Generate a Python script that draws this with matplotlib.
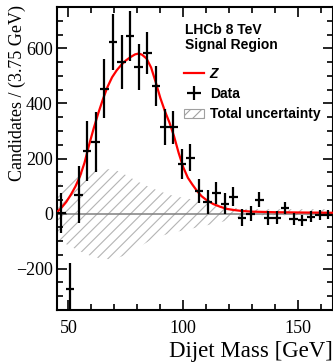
import matplotlib
matplotlib.use("Agg")
import matplotlib.pyplot as plt
import numpy as np
from matplotlib.patches import Patch
from matplotlib.ticker import MultipleLocator

# ---- data ----
bin_lo, bin_hi, bin_w = 45.0, 165.0, 3.75
data_x = [46.875, 50.625, 54.375, 58.125, 61.875, 65.625, 69.375, 73.125,
          76.875, 80.625, 84.375, 88.125, 91.875, 95.625, 99.375, 103.125,
          106.875, 110.625, 114.375, 118.125, 121.875, 125.625, 129.375, 133.125,
          136.875, 140.625, 144.375, 148.125, 151.875, 155.625, 159.375, 163.125]
data_y = [1, -274, 69, 227, 259, 453, 623, 550,
          644, 532, 583, 462, 314, 314, 180, 203,
          81, 41, 74, 35, 62, -15, 0, 51,
          -15, -15, 20, -19, -25, -11, -5, -4]
data_err = [73, 93, 103, 110, 109, 107, 103, 97,
            90, 84, 76, 72, 64, 60, 53, 48,
            44, 44, 40, 38, 36, 30, 28, 27,
            25, 24, 23, 22, 20, 19, 17, 16]

fit_x = [45, 47, 49, 51, 53, 55, 57, 59, 61, 63, 65, 67, 69, 71, 73, 75, 77, 79,
         80.5, 82, 84, 86, 88, 90, 92, 94, 96, 98, 100, 102, 104, 106, 108, 110,
         113, 116, 119, 122, 125, 130, 140, 150, 165]
fit_y = [5, 22, 42, 68, 98, 135, 185, 250, 310, 365, 415, 460, 495, 520, 540, 556, 568, 578,
         581, 577, 563, 530, 477, 420, 372, 330, 280, 220, 168, 130, 105, 82, 63, 50,
         35, 25, 17, 13, 10, 7, 5, 4, 3]

band_x = [45, 50, 55, 60, 65, 70, 75, 80, 85, 90, 95, 100, 105, 110, 115, 120, 125,
          130, 135, 140, 145, 150, 155, 160, 165]
band_hi = [100, 122, 142, 155, 162, 160, 140, 117, 97, 80, 66, 57, 50, 42, 33, 24, 18,
           16, 16, 16, 16, 16, 16, 16, 16]
band_lo = [-95, -115, -137, -155, -165, -165, -150, -125, -100, -82, -70, -61, -52, -43, -34, -23, -12,
           -7, -6, -6, -6, -6, -6, -6, -6]

xticks = [50, 100, 150]
yticks = [-200, 0, 200, 400, 600]

# ---- figure ----
plt.rcParams['hatch.linewidth'] = 0.8
fig = plt.figure(figsize=(3.33, 3.62), dpi=100)
ax = fig.add_axes([57/333, 1-310/362, 275.5/333, 303/362])

band = ax.fill_between(band_x, band_lo, band_hi, facecolor='none', edgecolor='#b4b4b4',
                       hatch='///', linewidth=0, zorder=1)
ax.axhline(0, color='#808080', lw=1.1, zorder=2)
fit_line, = ax.plot(fit_x, fit_y, color='red', lw=1.6, zorder=3)
eb = ax.errorbar(data_x, data_y, yerr=data_err, xerr=bin_w/2, fmt='none',
                 ecolor='black', elinewidth=1.6, capsize=0, zorder=4)

ax.set_xlim(bin_lo, bin_hi)
ax.set_ylim(-350, 750)
ax.set_xticks(xticks)
ax.set_yticks(yticks)
ax.xaxis.set_minor_locator(MultipleLocator(10))
ax.yaxis.set_minor_locator(MultipleLocator(50))
ax.tick_params(which='both', direction='in', top=True, right=True, width=1.2,
               labelfontfamily='Liberation Serif')
ax.tick_params(which='major', length=7)
ax.tick_params(which='minor', length=4)
ax.tick_params(axis='x', which='major', pad=7, labelsize=13)
ax.tick_params(axis='y', which='major', pad=3, labelsize=13)
for sp in ax.spines.values():
    sp.set_linewidth(1.5)

ax.set_xlabel('Dijet Mass [GeV]', family='Liberation Serif', fontsize=16.5,
              loc='right', labelpad=3)
ax.set_ylabel('Candidates / (3.75 GeV)', family='Liberation Serif', fontsize=13,
              loc='top')
ax.yaxis.set_label_coords(-0.112, 1.005)

ax.text(0.464, 0.925, 'LHCb 8 TeV', transform=ax.transAxes, fontsize=10,
        fontweight='bold', family='Liberation Sans', va='center', ha='left')
ax.text(0.464, 0.875, 'Signal Region', transform=ax.transAxes, fontsize=10,
        fontweight='bold', family='Liberation Sans', va='center', ha='left')

unc_handle = Patch(facecolor='white', edgecolor='#a0a0a0', hatch='///', lw=0.8)
leg = ax.legend([fit_line, eb, unc_handle], ['Z', 'Data', 'Total uncertainty'],
                loc='upper left', bbox_to_anchor=(0.461, 0.803), frameon=False,
                prop={'family': 'Liberation Sans', 'weight': 'bold', 'size': 10},
                handlelength=1.45, handletextpad=0.4, labelspacing=0.46,
                borderpad=0, borderaxespad=0)
leg.get_texts()[0].set_fontstyle('italic')

fig.savefig('out.png', dpi=100)
